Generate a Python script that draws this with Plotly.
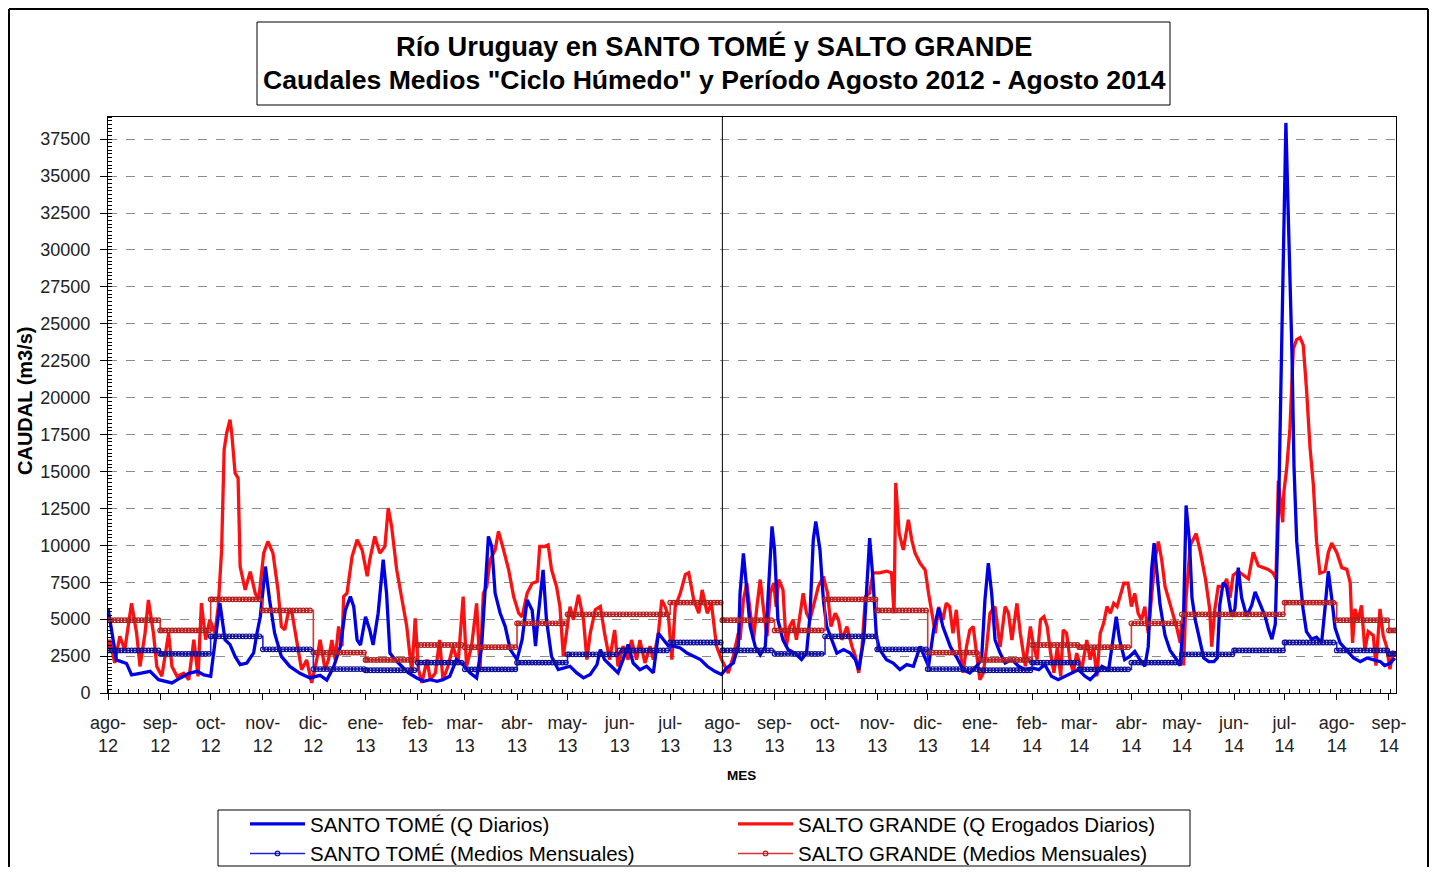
import pandas as pd
import plotly.graph_objects as go

START = pd.Timestamp("2012-08-01")

# ---------------- data (days since 1-Aug-2012, m3/s) ----------------
st_days = [0, 5, 11, 14, 19, 25, 30, 35, 38, 43, 48, 53, 57, 61, 64, 66.5, 69.5, 72.5, 75.5, 78.5,
           82.5, 86.5, 88.5, 90.5, 93.5, 96, 99, 103, 108, 114, 120, 126, 130, 134, 138, 141, 144, 146,
           148, 150, 153, 155.5, 157.5, 160.5, 163.5, 165.5, 167.5, 170.5, 174.5, 178.5, 183.5, 187.5,
           191.5, 195.5, 199, 203, 207, 211, 215, 219, 222, 224, 226, 228, 230, 233, 236, 239, 243, 246,
           249, 252, 254, 255.5, 258.5, 260.5, 263.5, 267.5, 270.5, 274.5, 278.5, 282.5, 286.5, 290.5,
           292.5, 295, 299, 303, 306, 309, 312, 316, 320, 324, 327, 330, 333, 336, 340, 344, 348, 352,
           356, 360.5, 364.5, 367.5, 371.5, 374.5, 375.5, 377.5, 379.5, 381.5, 384.5, 387.5, 390.5,
           392.5, 394.5, 396, 398, 401, 404, 408, 412, 415, 417, 419, 420.5, 423, 425, 427, 430, 433,
           437, 441, 444, 446, 449, 451, 452.5, 454.5, 456.5, 458.5, 462.5, 466.5, 470.5, 474.5, 478.5,
           482.5, 485.5, 487.5, 490.5, 493.5, 496, 499, 500.5, 504, 508, 512, 516, 519, 521, 523, 525,
           527, 530, 533, 537, 541, 545, 549, 553, 556.5, 560.5, 564.5, 568.5, 572.5, 576.5, 580.5,
           583.5, 587.5, 590.5, 594.5, 597, 599, 601, 604, 607, 610, 613, 616, 618, 620, 621.5, 623,
           625, 628, 631, 635, 637, 639, 640.5, 642.5, 644, 646, 648, 651, 654, 657, 659, 660.5, 662.5,
           664.5, 667.5, 669.5, 671.5, 673.5, 676.5, 679.5, 681.5, 684.5, 687.5, 689.5, 691.5, 693.5,
           694.7, 695.8, 697.2, 698.6, 699.8, 701, 702.2, 703.4, 704.6, 706.2, 708.2, 710, 712, 715,
           718, 721, 723, 725, 727, 729, 732, 736, 740, 744, 748, 752, 756, 758.5, 761.5, 764.5]
st_q = [5740, 2240, 2000, 1220, 1330, 1470, 900, 790, 680, 1020, 1330, 1470, 1220, 1130, 4050, 6080,
        3610, 3270, 2480, 1920, 2030, 2710, 4050, 5180, 8560, 6300, 4050, 2480, 1800, 1330, 1020, 1200,
        880, 1760, 3120, 5600, 6530, 5850, 3590, 3250, 5160, 4270, 3250, 5400, 9020, 6750, 2700, 2260,
        1810, 1360, 1020, 790, 900, 790, 900, 1130, 2260, 1920, 1360, 1020, 3170, 6750, 10600, 9920,
        6750, 5400, 4500, 2940, 2260, 3590, 6300, 5600, 3170, 5160, 8340, 4960, 2470, 1580, 1690, 1810,
        1360, 1020, 1250, 1920, 2940, 2260, 1810, 1360, 2260, 3280, 2030, 1580, 1810, 1360, 4050, 3590,
        3170, 3170, 3050, 2710, 2490, 2260, 1810, 1470, 1250, 1700, 2030, 3170, 6760, 9460, 7000, 4500,
        3150, 2580, 3150, 7450, 11280, 9690, 4950, 3600, 2940, 2700, 2260, 2700, 5160, 10370, 11620,
        9690, 6300, 4500, 3600, 2700, 2940, 2700, 2260, 1580, 3600, 7680, 10490, 7680, 3840, 2940, 2260,
        2030, 1580, 1920, 1810, 3150, 2260, 1810, 4270, 5740, 4500, 3600, 3120, 2470, 1580, 1360, 1810,
        2260, 6300, 8790, 6750, 3590, 2700, 2030, 2260, 1810, 1580, 1700, 1580, 1920, 1130, 900, 1130,
        1360, 1580, 1130, 900, 1360, 1810, 1580, 3590, 5160, 3590, 2260, 2470, 2810, 2260, 1810, 3120,
        8340, 10150, 8340, 6000, 3900, 2880, 2240, 1860, 5180, 12700, 10280, 6450, 4920, 3900, 2370,
        2120, 2120, 2370, 5940, 7470, 7220, 5180, 5690, 8490, 6450, 5180, 5940, 6840, 5940, 5180, 4290,
        3650, 4670, 9000, 14360, 23040, 31960, 38600, 33240, 28140, 23040, 15380, 10280, 7730, 5690,
        4160, 3650, 3780, 3390, 5690, 8240, 6450, 4410, 3390, 2880, 2370, 2120, 2370, 2240, 2120, 1860,
        1990, 2370]

sg_days = [0, 1, 4, 7, 10, 14, 17, 19, 22, 24, 27, 29, 32, 36, 38, 41, 45, 48, 51, 53.5, 55.5, 58,
           60.5, 63.5, 65.5, 67.5, 69, 70.5, 72.5, 73.5, 75.5, 77.3, 78.5, 81.5, 84.5, 87.5, 89.5, 92.5,
           95, 98, 101, 103, 105, 107, 109, 112, 115, 118, 121, 124, 126, 129, 131, 133, 135, 137, 139,
           140, 142, 145, 148, 151, 154, 155.5, 158.5, 161.5, 164.5, 166.5, 168.5, 171.5, 174.5, 177.5,
           180.5, 182.5, 184.5, 186.5, 189.5, 191.5, 194.5, 197, 199, 202, 205, 208, 211, 213, 216, 219,
           221, 223, 225, 227, 230, 232, 235, 238, 241, 244, 246, 249, 252, 255, 256.5, 259.5, 261.5,
           263.5, 266.5, 268.5, 270.5, 272.5, 274.5, 276.5, 279.5, 282.5, 284.5, 286.5, 289.5, 292.5,
           295, 298, 301, 303, 306, 309, 311, 314, 316, 319, 322, 324, 327, 329, 331, 333, 335, 337,
           340, 343, 345, 348, 351, 353, 356, 358.5, 361.5, 364.5, 366.5, 368.5, 371.5, 374.5, 375.5,
           377.5, 379.5, 381.5, 383.5, 385.5, 387.5, 389.5, 391.5, 393.5, 395.5, 397, 398.5, 401, 403,
           405, 407, 409, 411, 413, 415, 417, 419, 422, 425, 427.5, 429.5, 432, 434, 436, 439, 442,
           444, 446, 448, 450, 452.5, 454.5, 458.5, 462.5, 465.5, 467, 468, 470, 472.5, 475.5, 477.5,
           479.5, 482.5, 485.5, 487.5, 489.5, 491.5, 493.5, 496, 498, 500, 502, 504, 506, 508, 510,
           512, 514, 516, 518, 520, 522, 524, 527, 530, 533, 535, 537, 540, 542, 545, 548, 550, 552,
           554, 556, 558, 560, 562, 564, 566, 567.5, 569.5, 571.5, 573.5, 575.5, 578.5, 581.5, 583.5,
           585.5, 587.5, 589.5, 591.5, 593.5, 595.5, 597.5, 599.5, 601.5, 603.5, 606, 608, 610, 612,
           614, 616, 618, 620, 622, 624, 626, 628, 630, 633, 635, 637, 638, 639, 640.5, 643, 646.5,
           649, 652, 654.5, 655.7, 657.6, 659.6, 662.6, 664.6, 666.6, 668.5, 671.5, 674.5, 677.5,
           680.4, 683.4, 686.4, 689.3, 692.3, 693.9, 695.3, 696.7, 697.9, 698.6, 700.2, 702.2, 704.2,
           706.2, 708.2, 710.1, 712.1, 714.1, 716.1, 718, 720, 723, 725, 727, 730, 733, 736, 738,
           739.4, 740.8, 742.7, 744.7, 746.7, 748.7, 751.7, 753.3, 755.7, 757.6, 759.6, 761.6, 763.6]
sg_q = [3000, 3600, 2030, 3840, 2940, 6080, 4050, 1800, 4050, 6300, 4050, 1800, 1130, 4050, 1800, 1130,
        1330, 900, 3610, 1130, 6080, 3610, 4970, 4050, 5850, 9690, 16475, 17600, 18500, 17600, 14900,
        14550, 8560, 6980, 8220, 6750, 6300, 9470, 10260, 9470, 6980, 4500, 4270, 5400, 5630, 3610,
        1580, 2240, 680, 2240, 3610, 1570, 2260, 3590, 2260, 4500, 3170, 6530, 6750, 9240, 10370, 9690,
        7910, 9020, 10600, 9470, 9920, 12520, 11280, 8360, 6300, 4500, 1360, 5060, 1580, 680, 2260, 900,
        1360, 3590, 900, 1810, 3170, 2030, 6530, 1810, 3170, 6070, 1580, 6750, 7200, 9020, 9690, 10940,
        9690, 8360, 6530, 5400, 5160, 6750, 7430, 7550, 9920, 9920, 10030, 8360, 7200, 5850, 2490, 4050,
        5850, 4960, 6640, 4960, 2260, 4050, 5630, 5850, 4050, 2260, 4270, 1810, 3170, 2260, 3590, 2260,
        3590, 2030, 3170, 2260, 4050, 6300, 5850, 5160, 2260, 5850, 6750, 8020, 8140, 6300, 5400, 6980,
        5400, 6070, 3170, 2260, 1810, 1360, 2490, 4050, 3600, 6300, 7450, 5400, 3600, 5830, 7680, 5620,
        3840, 6760, 7450, 5830, 7680, 7000, 3150, 4500, 4950, 3600, 5400, 6760, 5400, 4950, 5830, 7210,
        7890, 6760, 4500, 5400, 4950, 3600, 4500, 3150, 2490, 1360, 3150, 6530, 6760, 8140, 8140, 8250,
        8140, 5400, 14220, 10830, 9690, 11730, 10370, 9460, 8780, 8330, 6760, 5400, 4050, 5830, 4950,
        6080, 5850, 4050, 5630, 3120, 1360, 3120, 4270, 4500, 2470, 900, 1360, 3120, 5400, 5850, 3120,
        5850, 5400, 3590, 6070, 4050, 1810, 4500, 3120, 2260, 4950, 5160, 4500, 2700, 1360, 3120, 1130,
        4270, 4050, 2260, 1360, 2700, 1580, 3590, 2260, 3120, 1130, 4050, 4720, 5850, 5400, 6070, 5850,
        6750, 7430, 7430, 5850, 6750, 5400, 4950, 5850, 4050, 6530, 9020, 10260, 9020, 7210, 6400, 5180,
        4410, 3390, 4920, 1860, 6450, 10030, 10790, 9520, 7730, 5690, 3140, 5690, 7220, 7220, 7730, 6450,
        7980, 8240, 7980, 7730, 9520, 8620, 8490, 8370, 8110, 7730, 14360, 12830, 11560, 13600, 15130,
        17930, 23290, 23930, 24060, 23550, 20480, 16660, 14110, 10280, 8110, 8240, 9520, 10150, 9520,
        8490, 8370, 7470, 3390, 5690, 4920, 5940, 2880, 4160, 3900, 1860, 5690, 3900, 3140, 1610, 2880]

# monthly means of the "ciclo húmedo" (Aug..Jul)
cycle_months = [8, 9, 10, 11, 12, 1, 2, 3, 4, 5, 6, 7]
st_mean = [2880, 2650, 3840, 2960, 1620, 1540, 2060, 1600, 2060, 2620, 2880, 3420]
sg_mean = [4930, 4240, 6340, 5590, 2740, 2240, 3250, 3100, 4720, 5330, 5330, 6120]

month_abbr = ["ago", "sep", "oct", "nov", "dic", "ene", "feb", "mar", "abr", "may", "jun", "jul"]
y_ticks = list(range(0, 37501, 2500))
divider_date = "2013-08-01"
x_end = "2014-09-05 05:00"

# ---------------- derived series ----------------
st_dates = START + pd.to_timedelta(st_days, unit="D")
sg_dates = START + pd.to_timedelta(sg_days, unit="D")

month_starts = pd.date_range("2012-08-01", "2014-09-01", freq="MS")
step_dates = pd.date_range("2012-08-01", x_end, freq="2D").union(month_starts).union(
    pd.DatetimeIndex([pd.Timestamp(x_end)]))
st_map = dict(zip(cycle_months, st_mean))
sg_map = dict(zip(cycle_months, sg_mean))
st_step = [st_map[d.month] for d in step_dates]
sg_step = [sg_map[d.month] for d in step_dates]

tick_text = [f"{month_abbr[cycle_months.index(d.month)]}-<br>{d.strftime('%y')}" for d in month_starts]

FONT = "Liberation Sans, Arial, sans-serif"

fig = go.Figure()
fig.add_trace(go.Scatter(x=sg_dates, y=sg_q, mode="lines", name="SALTO GRANDE (Q Erogados Diarios)",
                         line=dict(color="#FF1010", width=3.3), legendrank=2))
fig.add_trace(go.Scatter(x=st_dates, y=st_q, mode="lines", name="SANTO TOMÉ (Q Diarios)",
                         line=dict(color="#0000E6", width=3.3), legendrank=1))
fig.add_trace(go.Scatter(x=step_dates, y=sg_step, mode="lines+markers", line_shape="hv",
                         name="SALTO GRANDE (Medios Mensuales)",
                         line=dict(color="#E03030", width=1.6),
                         marker=dict(symbol="circle-open", size=4.6, color="#B02020", line=dict(width=1.2)),
                         legendrank=4))
fig.add_trace(go.Scatter(x=step_dates, y=st_step, mode="lines+markers", line_shape="hv",
                         name="SANTO TOMÉ (Medios Mensuales)",
                         line=dict(color="#2020E0", width=1.6),
                         marker=dict(symbol="circle-open", size=4.6, color="#101090", line=dict(width=1.2)),
                         legendrank=3))

# geometry helpers (figure placed at page offset 8,8)
W, H = 1421, 859
L, R, T, B = 100, 33, 109, 174
PW, PH = W - L - R, H - T - B


def px(fx):
    return (fx - L) / PW


def py(fy):
    return (H - B - fy) / PH


frame = dict(color="black", width=2)
shapes = [
    dict(type="line", xref="x", yref="paper", x0=divider_date, x1=divider_date, y0=0, y1=1,
         line=dict(color="black", width=1)),
    # title box
    dict(type="rect", xref="paper", yref="paper", x0=px(249), x1=px(1162), y0=py(97), y1=py(14),
         line=dict(color="black", width=1)),
    # legend box
    dict(type="rect", xref="paper", yref="paper", x0=px(210), x1=px(1182), y0=py(858), y1=py(802),
         line=dict(color="black", width=1)),
    # outer frame (left, top, right)
    dict(type="line", xref="paper", yref="paper", x0=px(1), x1=px(1), y0=py(1), y1=py(900), line=frame),
    dict(type="line", xref="paper", yref="paper", x0=px(1), x1=px(1420), y0=py(1), y1=py(1), line=frame),
    dict(type="line", xref="paper", yref="paper", x0=px(1420), x1=px(1420), y0=py(1), y1=py(900),
         line=frame),
]

annotations = [
    dict(text="<b>Río Uruguay en SANTO TOMÉ y SALTO GRANDE</b>", xref="paper", yref="paper",
         x=px(706), y=py(38), xanchor="center", yanchor="middle", showarrow=False,
         font=dict(family=FONT, size=27.3, color="black")),
    dict(text="<b>Caudales Medios \"Ciclo Húmedo\" y Período Agosto 2012 - Agosto 2014</b>",
         xref="paper", yref="paper", x=px(706), y=py(72), xanchor="center", yanchor="middle",
         showarrow=False, font=dict(family=FONT, size=26.6, color="black")),
    dict(text="<b>CAUDAL (m3/s)</b>", xref="paper", yref="paper", x=px(17), y=py(393),
         xanchor="center", yanchor="middle", textangle=-90, showarrow=False,
         font=dict(family=FONT, size=20, color="black")),
    dict(text="<b>MES</b>", xref="paper", yref="paper", x=px(733), y=py(767),
         xanchor="center", yanchor="middle", showarrow=False,
         font=dict(family=FONT, size=13.5, color="black")),
]

fig.update_layout(
    width=W, height=H,
    margin=dict(l=L, r=R, t=T, b=B, pad=0, autoexpand=False),
    paper_bgcolor="white", plot_bgcolor="white",
    font=dict(family=FONT, size=18, color="#111"),
    shapes=shapes, annotations=annotations,
    legend=dict(orientation="h", xref="container", yref="container",
                x=237 / W, y=1 - 796 / H, xanchor="left", yanchor="top",
                borderwidth=0, bgcolor="rgba(0,0,0,0)",
                font=dict(family=FONT, size=20.5, color="black"),
                entrywidth=418, entrywidthmode="pixels", itemwidth=55, traceorder="normal"),
    showlegend=True,
)
fig.update_xaxes(
    type="date", range=["2012-08-01", x_end],
    tickvals=month_starts, ticktext=tick_text, tickangle=0,
    ticks="outside", ticklen=6, tickcolor="black", ticklabelstandoff=7,
    showline=True, linecolor="black", linewidth=1, mirror=True, showgrid=False, zeroline=False,
    tickfont=dict(family=FONT, size=18, color="#222"),
    minor=dict(ticks="inside", ticklen=4, tickcolor="black", dtick=6 * 86400000, tick0="2012-08-01",
               showgrid=False),
)
fig.update_yaxes(
    range=[0, 39000], tickvals=y_ticks, ticktext=[str(v) for v in y_ticks],
    ticks="outside", ticklen=7, tickcolor="black", ticklabelstandoff=6,
    showline=True, linecolor="black", linewidth=1, mirror=True, zeroline=False,
    showgrid=True, gridcolor="#8c8c8c", griddash="dash", gridwidth=1,
    tickfont=dict(family=FONT, size=18, color="#222"),
    minor=dict(ticks="inside", ticklen=4, tickcolor="black", dtick=250, showgrid=False),
)

fig.write_html("out.html")
